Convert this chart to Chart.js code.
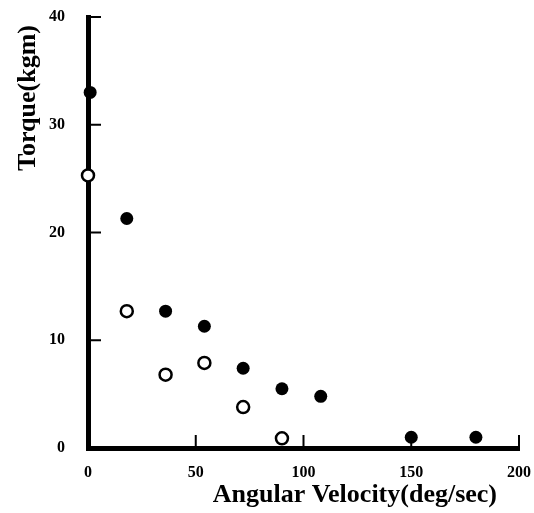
<!DOCTYPE html>
<html>
<head>
<meta charset="utf-8">
<script src="https://cdn.jsdelivr.net/npm/chart.js@4/dist/chart.umd.min.js"></script>
<style>
    html, body {margin: 0; padding: 0; background: #fff;}
    #wrap {width: 534px; height: 513px;}
</style>
</head>
<body>
<div id="wrap"><canvas id="torqueChart"></canvas></div>
<script>
// angular velocity (deg/sec) for each series
const filledVelocity = [1, 18, 36, 54, 72, 90, 108, 150, 180];
const filledTorque = [33, 21.3, 12.7, 11.3, 7.4, 5.5, 4.8, 1.0, 1.0];

const openVelocity = [0, 18, 36, 54, 72, 90];
const openTorque = [25.3, 12.7, 6.8, 7.9, 3.8, 0.9];

const xTicks = [0, 50, 100, 150, 200];
const yTicks = [0, 10, 20, 30, 40];

const xTitle = "Angular Velocity(deg/sec)";
const yTitle = "Torque(kgm)";

function toPoints(xs, ys) {
    return xs.map(function (x, i) {
        return {x: x, y: ys[i]};
    });
}

const serif = "'Liberation Serif', 'DejaVu Serif', serif";

// tick marks pointing into the plot, like the original figure
const innerTicks = {
    id: "innerTicks",
    afterDraw: function (chart) {
        const c = chart.ctx;
        const area = chart.chartArea;
        const xs = chart.scales.x;
        const ys = chart.scales.y;
        c.save();
        c.strokeStyle = "#000";
        c.lineWidth = 2;
        c.beginPath();
        yTicks.forEach(function (v) {
            if (v === 0) return;
            const py = ys.getPixelForValue(v);
            c.moveTo(area.left, py);
            c.lineTo(area.left + 13, py);
        });
        xTicks.forEach(function (v) {
            if (v === 0) return;
            const px = xs.getPixelForValue(v);
            c.moveTo(px, area.bottom);
            c.lineTo(px, area.bottom - 13);
        });
        c.stroke();
        c.restore();
    }
};

// axis titles sit off-centre in the original, so place them by hand
const axisTitles = {
    id: "axisTitles",
    afterDraw: function (chart) {
        const c = chart.ctx;
        const area = chart.chartArea;
        c.save();
        c.fillStyle = "#000";
        c.font = "bold 26px " + serif;
        c.textBaseline = "middle";
        c.textAlign = "right";
        c.fillText(xTitle, area.right - 22, chart.height - 18);
        c.translate(28, area.top + 8);
        c.rotate(-Math.PI / 2);
        c.fillText(yTitle, 0, 0);
        c.restore();
    }
};

new Chart(document.getElementById("torqueChart"), {
    type: "scatter",
    data: {
        datasets: [{
                label: "filled",
                data: toPoints(filledVelocity, filledTorque),
                backgroundColor: "#000",
                borderColor: "#000",
                borderWidth: 0,
                pointRadius: 6.5,
                clip: false
            }, {
                label: "open",
                data: toPoints(openVelocity, openTorque),
                backgroundColor: "#fff",
                borderColor: "#000",
                borderWidth: 2.5,
                pointRadius: 6,
                clip: false
            }]
    },
    options: {
        responsive: true,
        maintainAspectRatio: false,
        animation: false,
        layout: {
            padding: {top: 17, right: 15, left: 0, bottom: 0}
        },
        plugins: {
            legend: {display: false},
            tooltip: {enabled: false}
        },
        scales: {
            x: {
                type: "linear",
                min: 0,
                max: 200,
                afterFit: function (s) {
                    s.height = 65;
                    s.paddingLeft = 0;
                    s.paddingRight = 0;
                },
                afterBuildTicks: function (s) {
                    s.ticks = xTicks.map(function (v) { return {value: v}; });
                },
                grid: {drawOnChartArea: false, drawTicks: false},
                border: {display: true, width: 5, color: "#000"},
                ticks: {
                    padding: 15,
                    color: "#000",
                    font: {family: serif, size: 16, weight: "bold"}
                }
            },
            y: {
                type: "linear",
                min: 0,
                max: 40,
                afterFit: function (s) {
                    s.width = 88;
                    s.paddingTop = 0;
                    s.paddingBottom = 0;
                },
                afterBuildTicks: function (s) {
                    s.ticks = yTicks.map(function (v) { return {value: v}; });
                },
                grid: {drawOnChartArea: false, drawTicks: false},
                border: {display: true, width: 5, color: "#000"},
                ticks: {
                    padding: 23,
                    color: "#000",
                    font: {family: serif, size: 16, weight: "bold"}
                }
            }
        }
    },
    plugins: [innerTicks, axisTitles]
});
</script>
</body>
</html>
